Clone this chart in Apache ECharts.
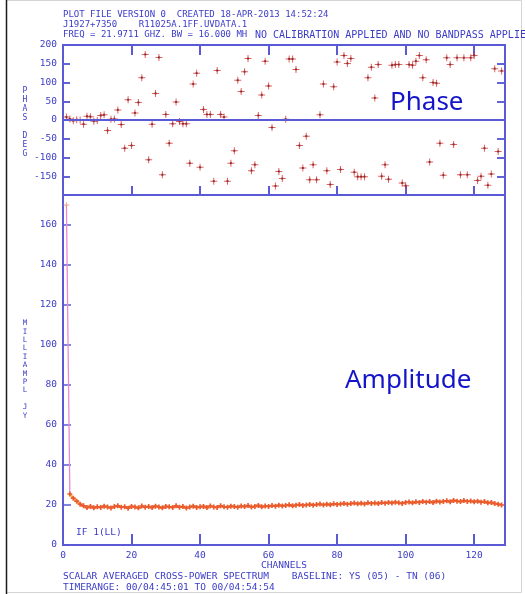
<!DOCTYPE html>
<html>
<head>
<meta charset="utf-8">
<script src="https://cdn.jsdelivr.net/npm/echarts@6/dist/echarts.min.js"></script>
<style>
  html, body { margin: 0; padding: 0; background: #ffffff; }
  #chart { width: 525px; height: 594px; }
</style>
</head>
<body>
<div id="chart"></div>
<script>
// Spectral channel numbers
const channels = [
  1, 2, 3, 4, 5, 6, 7, 8, 9, 10, 11, 12, 13, 14, 15, 16, 17, 18, 19, 20,
  21, 22, 23, 24, 25, 26, 27, 28, 29, 30, 31, 32, 33, 34, 35, 36, 37, 38, 39, 40,
  41, 42, 43, 44, 45, 46, 47, 48, 49, 50, 51, 52, 53, 54, 55, 56, 57, 58, 59, 60,
  61, 62, 63, 64, 65, 66, 67, 68, 69, 70, 71, 72, 73, 74, 75, 76, 77, 78, 79, 80,
  81, 82, 83, 84, 85, 86, 87, 88, 89, 90, 91, 92, 93, 94, 95, 96, 97, 98, 99, 100,
  101, 102, 103, 104, 105, 106, 107, 108, 109, 110, 111, 112, 113, 114, 115, 116, 117, 118, 119, 120,
  121, 122, 123, 124, 125, 126, 127, 128
];

// Phase per channel (degrees)
const phaseDeg = [
  8, 3, -2, 1, 0, -11, 10, 9, -3, -1, 12, 14, -28, 2, 3, 27, -12, -75, 54, -68,
  19, 47, 113, 175, -106, -11, 71, 167, -146, 15, -62, -10, 48, -4, -10, -10, -115, 96, 125, -126,
  28, 15, 15, -163, 132, 15, 8, -163, -115, -82, 106, 76, 129, 164, -135, -119, 12, 67, 157, 91,
  -20, -176, -137, -156, 2, 163, 163, 135, -68, -128, -43, -159, -119, -159, 14, 96, -135, -172, 89, 155,
  -132, 172, 151, 164, -139, -151, -151, -151, 113, 141, 59, 148, -150, -119, -158, 146, 148, 148, -168, -175,
  148, 146, 157, 172, 113, 161, -112, 100, 98, -62, -147, 166, 148, -65, 166, -146, 166, -146, 166, 172,
  -161, -150, -75, -174, -144, 137, -84, 131
];

// Amplitude per channel (milli-Jy)
const ampMilliJy = [
  170, 25.5, 23.4, 21.9, 20.4, 19.6, 18.7, 19.3, 18.6, 19.1,
  18.8, 19.4, 19.0, 18.5, 19.2, 19.6, 18.9, 19.1, 18.4, 19.3,
  19.0, 18.6, 19.5, 18.9, 19.2, 18.7, 19.4, 19.0, 18.6, 19.3,
  19.1, 18.8, 19.6, 18.9, 19.2, 18.5, 19.0, 19.4, 18.8, 19.1,
  19.3, 18.7, 19.5, 19.0, 18.8, 19.6, 19.1, 18.9, 19.4, 19.2,
  18.9, 19.5, 19.2, 19.7, 19.0, 19.3, 19.8, 19.1, 19.5, 19.3,
  19.7, 19.4, 19.9, 19.5, 19.8, 20.1, 19.6, 19.9, 20.2, 19.8,
  20.0, 20.3, 19.9, 20.2, 20.5, 20.0, 20.4, 20.1, 20.6, 20.3,
  20.5, 20.8, 20.4, 20.7, 21.0, 20.6, 20.9, 20.5, 21.1, 20.8,
  21.0, 20.7, 21.2, 20.9, 21.3, 21.0, 21.4, 21.1, 20.8, 21.3,
  21.5, 21.1, 21.6, 21.3, 21.8, 21.4, 21.7, 21.2, 21.9, 21.5,
  21.8, 22.1, 21.6, 22.3, 21.9, 21.7, 22.2, 21.8, 22.0, 21.6,
  21.9, 21.4, 21.7, 21.1, 21.3, 20.7, 20.4, 20.0
];

// Axis tick labels
const phaseTicks = [-150, -100, -50, 0, 50, 100, 150, 200];
const ampTicks = [0, 20, 40, 60, 80, 100, 120, 140, 160];
const channelTicks = [0, 20, 40, 60, 80, 100, 120];

const AXIS_BLUE = '#5a5ad6';
const TEXT_BLUE = '#3c3cc8';
const MONO = '"DejaVu Sans Mono", "Liberation Mono", monospace';
const PLUS = 'path://M3,0h1v3h3v1h-3v3h-1v-3h-3v-1h3z';
const PLUS_BOLD = 'path://M2,0h2v2h2v2h-2v2h-2v-2h-2v-2h2z';

const phasePts = channels.map((c, i) => [c, phaseDeg[i]]);
const ampPts = channels.map((c, i) => [c, ampMilliJy[i]]);

const tickStyle = (len, w) => ({ show: true, inside: true, length: len, lineStyle: { color: AXIS_BLUE, width: w } });
const noTick = { show: false };
const ghostLabel = { show: true, color: 'rgba(0,0,0,0)', fontSize: 8 };

// labelled axis: only the listed values get a label
function labelled(labels) {
  return {
    show: true, color: TEXT_BLUE, fontFamily: MONO, fontSize: 9.5, margin: 6,
    formatter: v => labels.includes(v) ? String(v) : ''
  };
}

// short tick strips along the phase frame, drawn as split lines of narrow grids
function channelStrip(grid) {
  return {
    type: 'value', gridIndex: grid, min: 0, max: 129, interval: 20,
    axisLine: { show: false }, axisTick: noTick, axisLabel: { show: false },
    splitLine: { show: true, lineStyle: { color: AXIS_BLUE, width: 2 } }
  };
}
function phaseStrip(grid) {
  return {
    type: 'value', gridIndex: grid, min: -200, max: 200, interval: 50,
    axisLine: { show: false }, axisTick: noTick, axisLabel: { show: false },
    splitLine: { show: true, lineStyle: { color: AXIS_BLUE, width: 1.5 } }
  };
}
const hiddenAxis = grid => ({ type: 'value', gridIndex: grid, min: 0, max: 1, show: false });

const PHASE_BOX = { left: 63, right: 20, top: 45, height: 150 };
const AMP_BOX = { left: 63, right: 20, top: 195, height: 350 };

const chart = echarts.init(document.getElementById('chart'), null, { renderer: 'canvas' });

chart.setOption({
  backgroundColor: '#ffffff',
  animation: false,
  grid: [
    // 0: phase panel (data, labels, frame)
    Object.assign({ show: true, borderColor: AXIS_BLUE, borderWidth: 2, backgroundColor: 'rgba(0,0,0,0)' }, PHASE_BOX),
    // 1: amplitude panel
    Object.assign({ show: true, borderColor: AXIS_BLUE, borderWidth: 2, backgroundColor: 'rgba(0,0,0,0)' }, AMP_BOX),
    // 2, 3: phase panel tick axes
    Object.assign({ show: false }, PHASE_BOX),
    Object.assign({ show: false }, PHASE_BOX),
    // 4..7: tick strips (top, bottom, left, right) of the phase panel
    { show: false, left: 63, right: 20, top: 45, height: 10 },
    { show: false, left: 63, right: 20, top: 186, height: 9 },
    { show: false, left: 63, width: 7, top: 45, height: 150 },
    { show: false, left: 497, width: 8, top: 45, height: 150 }
  ],
  xAxis: [
    { type: 'value', gridIndex: 0, min: 0, max: 129, interval: 20,
      axisLine: { show: false }, splitLine: { show: false }, axisTick: noTick, axisLabel: { show: false } },
    { type: 'value', gridIndex: 1, position: 'bottom', min: 0, max: 129, interval: 20,
      axisLine: { show: false, onZero: false }, splitLine: { show: false },
      axisTick: tickStyle(11, 2), axisLabel: labelled(channelTicks) },
    { type: 'value', gridIndex: 2, position: 'bottom', min: 0, max: 129, interval: 20,
      axisLine: { show: false, onZero: false }, splitLine: { show: false },
      axisTick: tickStyle(9, 2), axisLabel: ghostLabel },
    { type: 'value', gridIndex: 2, position: 'top', min: 0, max: 129, interval: 20,
      axisLine: { show: false, onZero: false }, splitLine: { show: false },
      axisTick: tickStyle(10, 2), axisLabel: ghostLabel },
    { type: 'value', gridIndex: 3, min: 1, max: 2, show: false },
    channelStrip(4),
    channelStrip(5),
    hiddenAxis(6),
    hiddenAxis(7)
  ],
  yAxis: [
    { type: 'value', gridIndex: 0, position: 'left', min: -200, max: 200, interval: 50,
      axisLine: { show: false }, splitLine: { show: false },
      axisTick: noTick, axisLabel: labelled(phaseTicks) },
    { type: 'value', gridIndex: 1, position: 'left', min: 0, max: 175, interval: 20,
      axisLine: { show: false, onZero: false }, splitLine: { show: false },
      axisTick: tickStyle(8, 1.5), axisLabel: labelled(ampTicks) },
    { type: 'value', gridIndex: 2, position: 'left', min: -200, max: 200, interval: 50,
      axisLine: { show: false }, splitLine: { show: false },
      axisTick: tickStyle(7, 1.5), axisLabel: ghostLabel },
    { type: 'value', gridIndex: 3, position: 'right', min: -200, max: 200, interval: 50,
      axisLine: { show: false }, splitLine: { show: false },
      axisTick: tickStyle(8, 1.5), axisLabel: { show: true, color: 'rgba(0,0,0,0)', fontSize: 6, formatter: () => '.' } },
    hiddenAxis(4),
    hiddenAxis(5),
    phaseStrip(6),
    phaseStrip(7)
  ],
  series: [
    {
      name: 'phase', type: 'scatter', xAxisIndex: 0, yAxisIndex: 0,
      data: phasePts, symbol: PLUS, symbolSize: 7,
      itemStyle: { color: '#d83a3a' },
      markLine: {
        silent: true, symbol: 'none', label: { show: false },
        lineStyle: { color: AXIS_BLUE, width: 2, type: 'solid' },
        data: [{ yAxis: 0 }]
      },
      z: 3
    },
    {
      name: 'phase-core', type: 'scatter', xAxisIndex: 0, yAxisIndex: 0,
      data: phasePts, symbol: 'rect', symbolSize: 2,
      itemStyle: { color: '#7a2020' }, z: 4
    },
    {
      // steep rise from the first channel
      name: 'amp-edge', type: 'line', xAxisIndex: 1, yAxisIndex: 1,
      data: ampPts.slice(0, 2), showSymbol: false,
      lineStyle: { color: '#e98ad8', width: 1.3 }, z: 2
    },
    {
      name: 'amp', type: 'line', xAxisIndex: 1, yAxisIndex: 1,
      data: ampPts.slice(1), symbol: PLUS_BOLD, symbolSize: 5, showSymbol: true,
      itemStyle: { color: '#ea5a2e' },
      lineStyle: { color: '#f7b53a', width: 2 }, z: 3
    },
    {
      name: 'amp-peak', type: 'scatter', xAxisIndex: 1, yAxisIndex: 1,
      data: ampPts.slice(0, 1), symbol: PLUS, symbolSize: 6,
      itemStyle: { color: '#e98a6a' }, z: 3
    }
  ],
  graphic: [
    // outer frame
    { type: 'rect', shape: { x: 6.5, y: 0.5, width: 515, height: 592 }, style: { fill: 'none', stroke: '#d4d4d4', lineWidth: 1 }, silent: true, z: -10 },
    { type: 'line', shape: { x1: 6.5, y1: 0, x2: 6.5, y2: 594 }, style: { stroke: '#1a1a1a', lineWidth: 1.5 }, silent: true },
    // header
    { type: 'text', style: { x: 63, y: 15, text: 'PLOT FILE VERSION 0  CREATED 18-APR-2013 14:52:24', fontFamily: MONO, fontSize: 9, fill: TEXT_BLUE, verticalAlign: 'middle' } },
    { type: 'text', style: { x: 63, y: 25, text: 'J1927+7350    R11025A.1FF.UVDATA.1', fontFamily: MONO, fontSize: 9, fill: TEXT_BLUE, verticalAlign: 'middle' } },
    { type: 'text', style: { x: 63, y: 35, text: 'FREQ = 21.9711 GHZ. BW = 16.000 MH', fontFamily: MONO, fontSize: 9, fill: TEXT_BLUE, verticalAlign: 'middle' } },
    { type: 'text', style: { x: 255, y: 35, text: 'NO CALIBRATION APPLIED AND NO BANDPASS APPLIED', fontFamily: MONO, fontSize: 10, fill: TEXT_BLUE, verticalAlign: 'middle' } },
    // vertical axis titles
    { type: 'text', style: { x: 25, y: 86, text: 'P\nH\nA\nS\n \nD\nE\nG', fontFamily: MONO, fontSize: 8, lineHeight: 9, fill: TEXT_BLUE, align: 'center' } },
    { type: 'text', style: { x: 25, y: 319, text: 'M\nI\nL\nL\nI\nA\nM\nP\nL\n \nJ\nY', fontFamily: MONO, fontSize: 7.5, lineHeight: 8.4, fill: TEXT_BLUE, align: 'center' } },
    // panel labels
    { type: 'text', style: { x: 390, y: 103, text: 'Phase', fontFamily: '"Noto Sans", sans-serif', fontSize: 26, fill: '#1414c8', verticalAlign: 'middle' } },
    { type: 'text', style: { x: 345, y: 381, text: 'Amplitude', fontFamily: '"Noto Sans", sans-serif', fontSize: 26, fill: '#1414c8', verticalAlign: 'middle' } },
    { type: 'text', style: { x: 76, y: 533, text: 'IF 1(LL)', fontFamily: MONO, fontSize: 9.5, fill: TEXT_BLUE, verticalAlign: 'middle' } },
    // footer
    { type: 'text', style: { x: 284, y: 566, text: 'CHANNELS', fontFamily: MONO, fontSize: 9.5, fill: TEXT_BLUE, align: 'center', verticalAlign: 'middle' } },
    { type: 'text', style: { x: 63, y: 577, text: 'SCALAR AVERAGED CROSS-POWER SPECTRUM    BASELINE: YS (05) - TN (06)', fontFamily: MONO, fontSize: 9.5, fill: TEXT_BLUE, verticalAlign: 'middle' } },
    { type: 'text', style: { x: 63, y: 588, text: 'TIMERANGE: 00/04:45:01 TO 00/04:54:54', fontFamily: MONO, fontSize: 9.5, fill: TEXT_BLUE, verticalAlign: 'middle' } }
  ]
});
</script>
</body>
</html>
